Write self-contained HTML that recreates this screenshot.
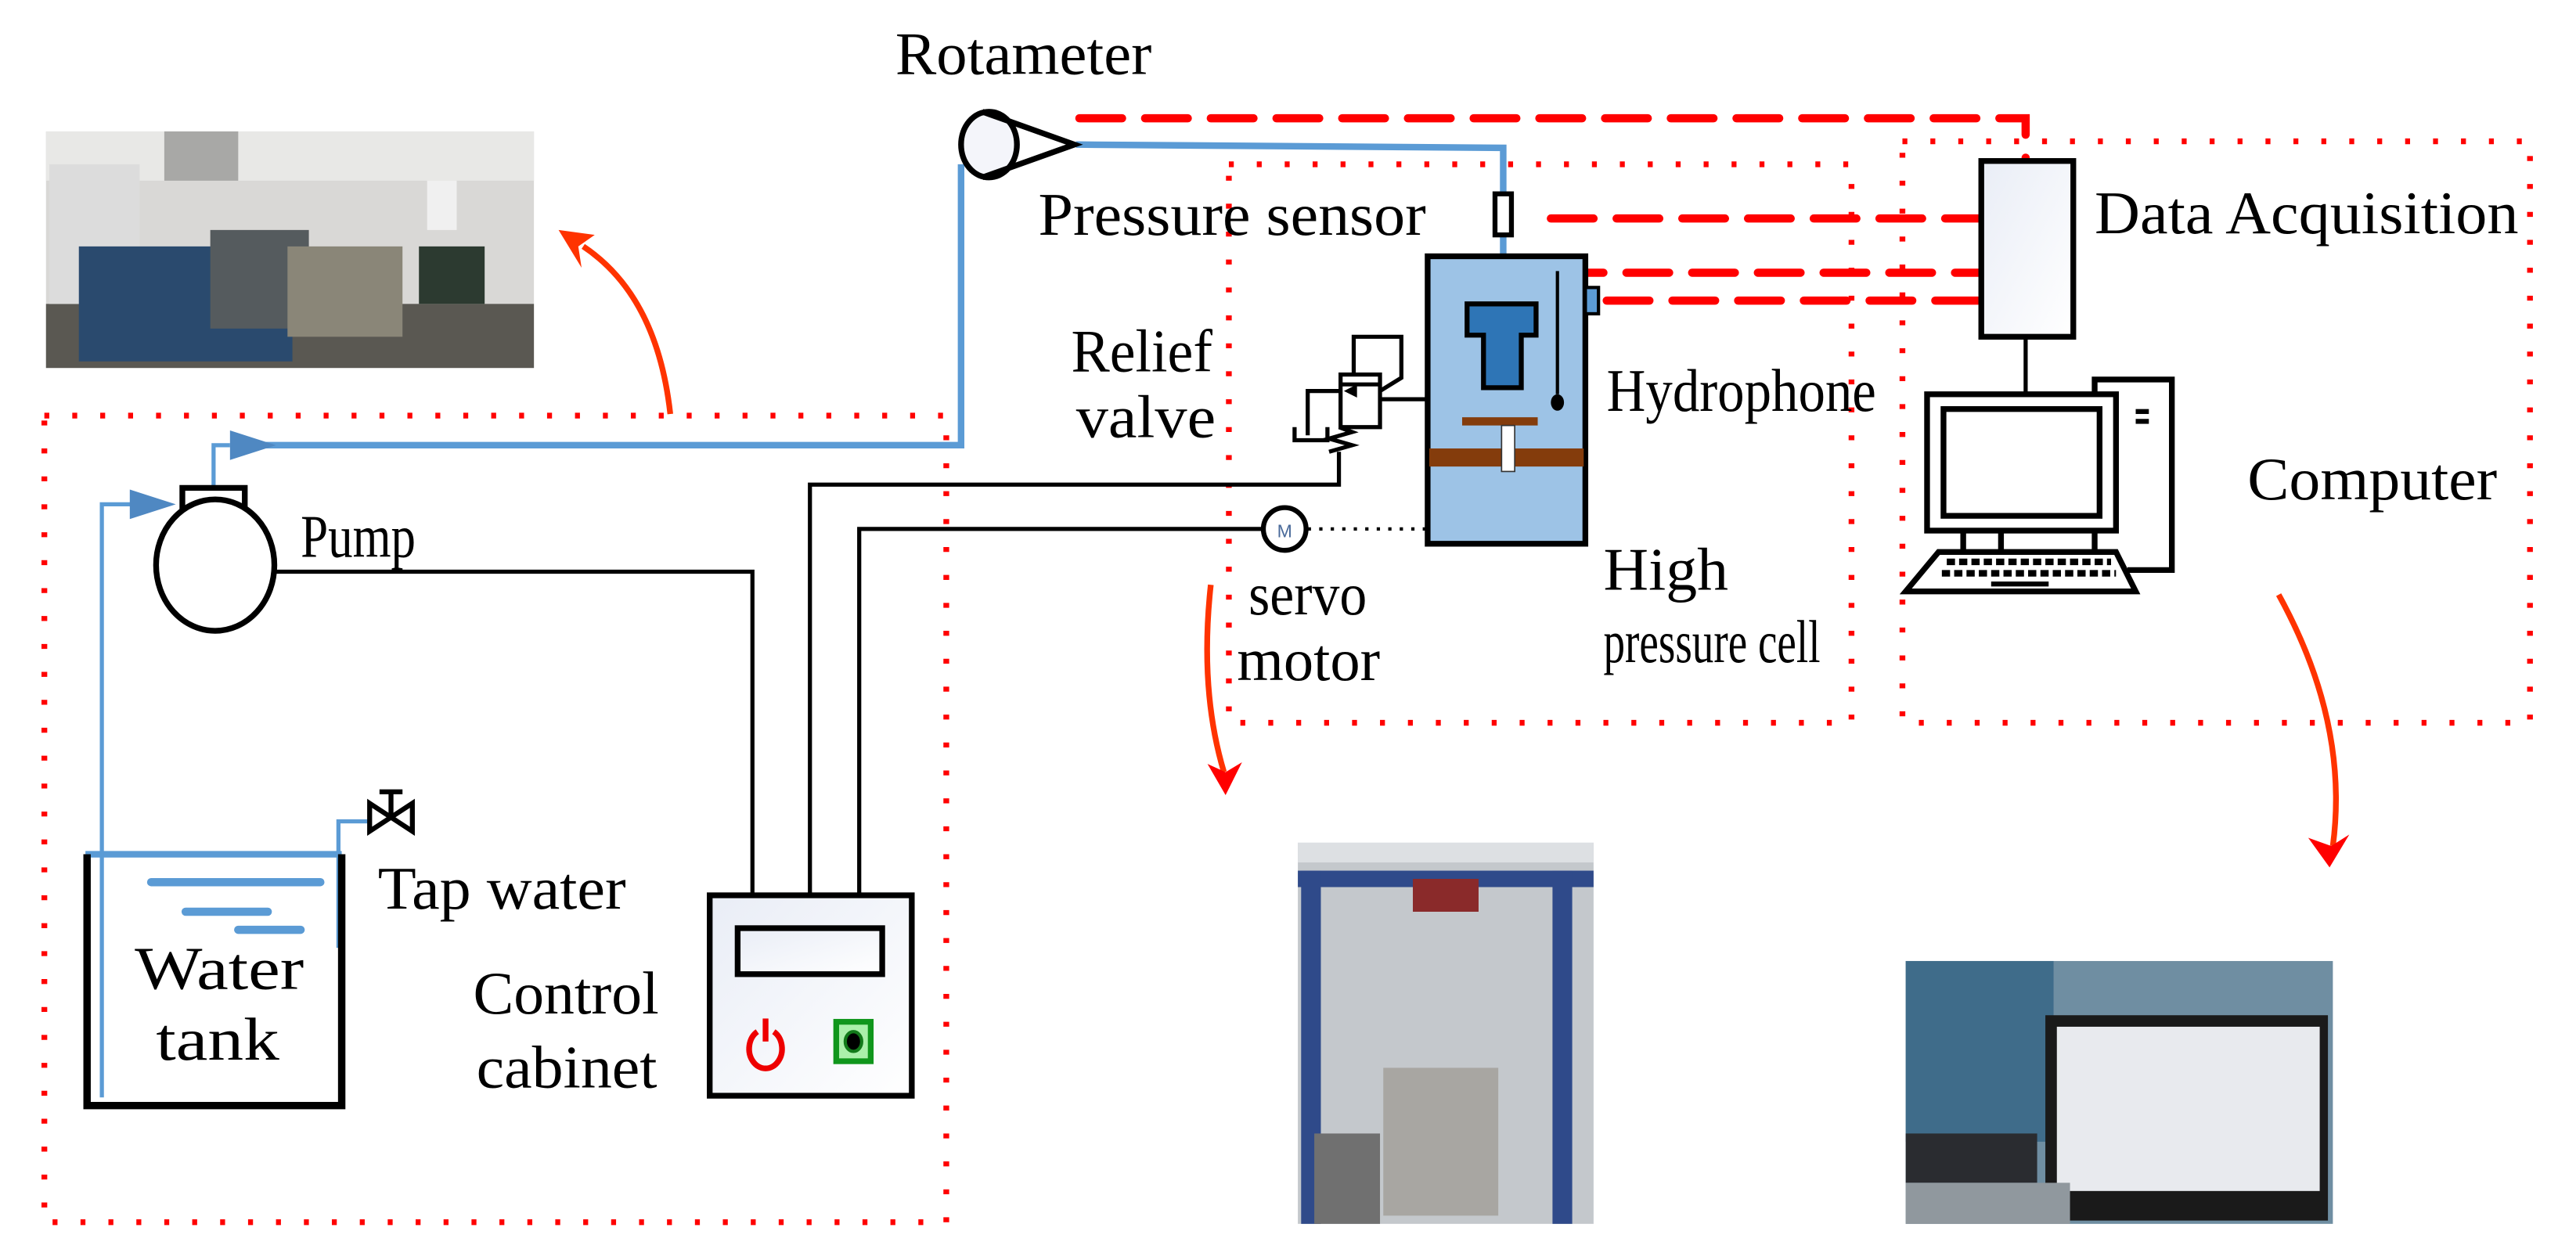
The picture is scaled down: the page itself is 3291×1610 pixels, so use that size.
<!DOCTYPE html>
<html><head><meta charset="utf-8"><style>
html,body{margin:0;padding:0;background:#fff;}
svg{display:block;}
text{font-family:"Liberation Serif",serif;font-size:37px;fill:#000;}
</style></head><body>
<svg width="3291" height="1610" viewBox="0 0 1568 767" preserveAspectRatio="none" xmlns="http://www.w3.org/2000/svg">
<defs>
<linearGradient id="g1" x1="0" y1="0" x2="1" y2="1"><stop offset="0" stop-color="#e9edf6"/><stop offset="1" stop-color="#fff"/></linearGradient>
</defs>
<rect width="1568" height="767" fill="#fff"/>

<!-- photo 1 -->
<rect x="28" y="80" width="297" height="144" fill="#d9d8d6"/>
<rect x="28" y="80" width="297" height="30" fill="#e8e8e6"/>
<rect x="28" y="185" width="297" height="39" fill="#5a5852"/>
<rect x="30" y="100" width="55" height="85" fill="#dcdcdc"/>
<rect x="100" y="80" width="45" height="30" fill="#a8a8a6"/>
<rect x="48" y="150" width="130" height="70" fill="#2a4a6e"/>
<rect x="128" y="140" width="60" height="60" fill="#555b5e"/>
<rect x="175" y="150" width="70" height="55" fill="#8a8678"/>
<rect x="260" y="110" width="18" height="30" fill="#f0f0f0"/>
<rect x="255" y="150" width="40" height="35" fill="#2c3a30"/>

<!-- photo 2 -->
<rect x="790" y="513" width="180" height="232" fill="#c4c8cc"/>
<rect x="790" y="513" width="180" height="12" fill="#dde0e3"/>
<rect x="790" y="530" width="180" height="10" fill="#2f4a8a"/>
<rect x="792" y="530" width="12" height="215" fill="#2f4a8a"/>
<rect x="945" y="530" width="12" height="215" fill="#2f4a8a"/>
<rect x="860" y="535" width="40" height="20" fill="#8a2a2a"/>
<rect x="842" y="650" width="70" height="90" fill="#a8a6a2"/>
<rect x="800" y="690" width="40" height="55" fill="#707070"/>

<!-- photo 3 -->
<rect x="1160" y="585" width="260" height="160" fill="#6f8ea2"/>
<rect x="1160" y="585" width="90" height="110" fill="#3f6c8a"/>
<rect x="1245" y="618" width="172" height="125" fill="#1a1a1a"/>
<rect x="1252" y="625" width="160" height="100" fill="#e8eaee"/>
<rect x="1160" y="690" width="80" height="30" fill="#2a2c30"/>
<rect x="1160" y="720" width="100" height="25" fill="#90989e"/>

<!-- dotted boxes -->
<g fill="none" stroke="#f00" stroke-width="3.5" stroke-dasharray="3 14">
<rect x="27" y="253" width="549" height="491"/>
<rect x="748" y="100" width="379" height="340"/>
<rect x="1158" y="86" width="382" height="354"/>
</g>

<!-- red dashed signal lines -->
<g fill="none" stroke="#f00" stroke-width="5" stroke-linecap="round" stroke-dasharray="26 14">
<path d="M657 72 H1233 V98"/>
<path d="M944 133 H1205"/>
<path d="M950 166 H1205"/>
<path d="M978 183 H1205"/>
</g>

<!-- curved red arrows -->
<g fill="none" stroke="#ff3300" stroke-width="3.5">
<path d="M408 252 Q400 180 355 150"/>
<path d="M737 356 Q730 420 745 470"/>
<path d="M1387 362 Q1430 440 1420 515"/>
</g>
<path d="M340 140 L362 143 L352 150 L354 163 Z" fill="#ff3300"/>
<path d="M746 484 L735 465 L746 470 L756 464 Z" fill="#f00"/>
<path d="M1418 528 L1405 510 L1419 515 L1430 508 Z" fill="#f00"/>

<!-- blue pipes -->
<g fill="none" stroke="#5b9bd5" stroke-width="4">
<path d="M155 271 H585 V100"/>
<path d="M655 88 L915 90 V187"/>
<path d="M52 520 H208"/>
<path d="M92 537 H195" stroke-linecap="round" stroke-width="5"/>
<path d="M113 555 H163" stroke-linecap="round" stroke-width="5"/>
<path d="M145 566 H183" stroke-linecap="round" stroke-width="5"/>
</g>
<g fill="none" stroke="#5b9bd5" stroke-width="2.5">
<path d="M130 297 V271 H140"/>
<path d="M62 668 V307 H80"/>
<path d="M206 577 V500 H225"/>
</g>
<path d="M140 262 L168 271 L140 280 Z" fill="#4f88c2"/>
<path d="M79 298 L107 307 L79 316 Z" fill="#4f88c2"/>

<!-- black wires -->
<g fill="none" stroke="#000" stroke-width="2.5">
<path d="M168 348 H458 V545"/>
<path d="M493 545 V295 H815 V275"/>
<path d="M523 545 V322 H768"/>
<path d="M841 243 H868"/>
<path d="M1233 205 V240"/>
</g>
<path d="M796 322 H919 V287" fill="none" stroke="#000" stroke-width="2" stroke-dasharray="2 5"/>

<!-- rotameter -->
<ellipse cx="602" cy="88" rx="17" ry="20" fill="#f4f5fa" stroke="#000" stroke-width="3.5"/>
<path d="M598 68 L654 88 L598 108" fill="none" stroke="#000" stroke-width="3.5"/>

<!-- pump -->
<rect x="111" y="297" width="38" height="22" fill="#fff" stroke="#000" stroke-width="3.5"/>
<ellipse cx="131" cy="344" rx="36" ry="40" fill="#fff" stroke="#000" stroke-width="3.5"/>

<!-- water tank -->
<path d="M53 520 V673 H208 V520" fill="none" stroke="#000" stroke-width="4.5"/>
<g fill="none" stroke="#000" stroke-width="3">
<path d="M225 489 L251 506 V489 L225 506 Z"/>
<path d="M238 497 V482 M231 482 H245"/>
</g>

<!-- control cabinet -->
<rect x="432" y="545" width="123" height="122" fill="url(#g1)" stroke="#000" stroke-width="3.5"/>
<rect x="449" y="565" width="88" height="28" fill="url(#g1)" stroke="#000" stroke-width="3.5"/>
<path d="M461 628 A10 12 0 1 0 471 628" fill="none" stroke="#e00" stroke-width="3.5"/>
<path d="M466 620 V634" stroke="#e00" stroke-width="3.5"/>
<rect x="509" y="622" width="21" height="24" fill="#aaf0aa" stroke="#10961c" stroke-width="3.5"/>
<ellipse cx="519.5" cy="634" rx="5" ry="6" fill="#000" stroke="#127a1a" stroke-width="2"/>

<!-- high pressure cell -->
<rect x="869" y="156" width="96" height="175" fill="#9dc3e6" stroke="#000" stroke-width="3.5"/>
<path d="M893 185 H935 V204 H926 V236 H903 V204 H893 Z" fill="#2e75b6" stroke="#000" stroke-width="3"/>
<path d="M948 165 V240" stroke="#000" stroke-width="2"/>
<ellipse cx="948" cy="245" rx="4" ry="5" fill="#000"/>
<rect x="965" y="175" width="8" height="16" fill="#5b9bd5" stroke="#000" stroke-width="2"/>
<rect x="910" y="118" width="10" height="25" fill="#fff" stroke="#000" stroke-width="3"/>
<rect x="890" y="254" width="46" height="5" fill="#843c0c"/>
<rect x="870" y="273" width="94" height="11" fill="#843c0c"/>
<rect x="914" y="259" width="8" height="28" fill="#fff" stroke="#333" stroke-width="0.8"/>

<!-- relief valve -->
<g fill="none" stroke="#000" stroke-width="2.5">
<rect x="816" y="228" width="24" height="32" fill="#fff"/>
<path d="M816 234 H840"/>
<path d="M824 229 V205 H853 V230 L840 238"/>
<path d="M816 238 H796 V265"/>
<path d="M788 260 V268 H808 V260"/>
<path d="M815 260 L823 263 L809 267 L823 271 L809 275"/>
</g>
<path d="M818 238 L826 234 L826 242 Z" fill="#000"/>

<!-- motor -->
<circle cx="782" cy="322" r="13" fill="#fff" stroke="#000" stroke-width="3"/>
<text x="782" y="327" text-anchor="middle" style="font-family:'Liberation Sans',sans-serif;font-size:11px;fill:#4a6a9a">M</text>

<!-- data acquisition -->
<rect x="1206" y="98" width="56" height="107" fill="url(#g1)" stroke="#000" stroke-width="3.5"/>

<!-- computer -->
<g fill="none" stroke="#000" stroke-width="3.5">
<path d="M1275 250 V231 H1322 V347 H1295"/>
<rect x="1173" y="240" width="115" height="83" fill="#fff"/>
<rect x="1183" y="249" width="95" height="65"/>
<path d="M1195 323 V336 M1218 323 V336 M1275 323 V336"/>
<path d="M1180 336 H1288 L1300 360 H1160 Z" fill="#fff"/>
</g>
<rect x="1300" y="249" width="8" height="3" fill="#000"/>
<rect x="1300" y="255" width="8" height="3" fill="#000"/>
<path d="M1185 342 H1285 M1182 349 H1288" stroke="#000" stroke-width="4" stroke-dasharray="5 2.5"/>
<rect x="1212" y="354" width="35" height="3" fill="#000"/>

<!-- labels -->
<g lengthAdjust="spacingAndGlyphs">
<text x="545" y="45" textLength="156" lengthAdjust="spacingAndGlyphs">Rotameter</text>
<text x="632" y="143" textLength="236" lengthAdjust="spacingAndGlyphs">Pressure sensor</text>
<text x="1275" y="142" textLength="258" lengthAdjust="spacingAndGlyphs">Data Acquisition</text>
<text x="652" y="226" textLength="86" lengthAdjust="spacingAndGlyphs">Relief</text>
<text x="655" y="266" textLength="85" lengthAdjust="spacingAndGlyphs">valve</text>
<text x="978" y="250" textLength="164" lengthAdjust="spacingAndGlyphs">Hydrophone</text>
<text x="1368" y="304" textLength="152" lengthAdjust="spacingAndGlyphs">Computer</text>
<text x="183" y="339" textLength="70" lengthAdjust="spacingAndGlyphs">Pump</text>
<text x="760" y="374" textLength="72" lengthAdjust="spacingAndGlyphs">servo</text>
<text x="753" y="414" textLength="87" lengthAdjust="spacingAndGlyphs">motor</text>
<text x="976" y="359" textLength="76" lengthAdjust="spacingAndGlyphs">High</text>
<text x="976" y="403" textLength="132" lengthAdjust="spacingAndGlyphs">pressure cell</text>
<text x="230" y="553" textLength="151" lengthAdjust="spacingAndGlyphs">Tap water</text>
<text x="82" y="602" textLength="103" lengthAdjust="spacingAndGlyphs">Water</text>
<text x="95" y="645" textLength="75" lengthAdjust="spacingAndGlyphs">tank</text>
<text x="288" y="617" textLength="113" lengthAdjust="spacingAndGlyphs">Control</text>
<text x="290" y="662" textLength="110" lengthAdjust="spacingAndGlyphs">cabinet</text>
</g>
</svg>
</body></html>
